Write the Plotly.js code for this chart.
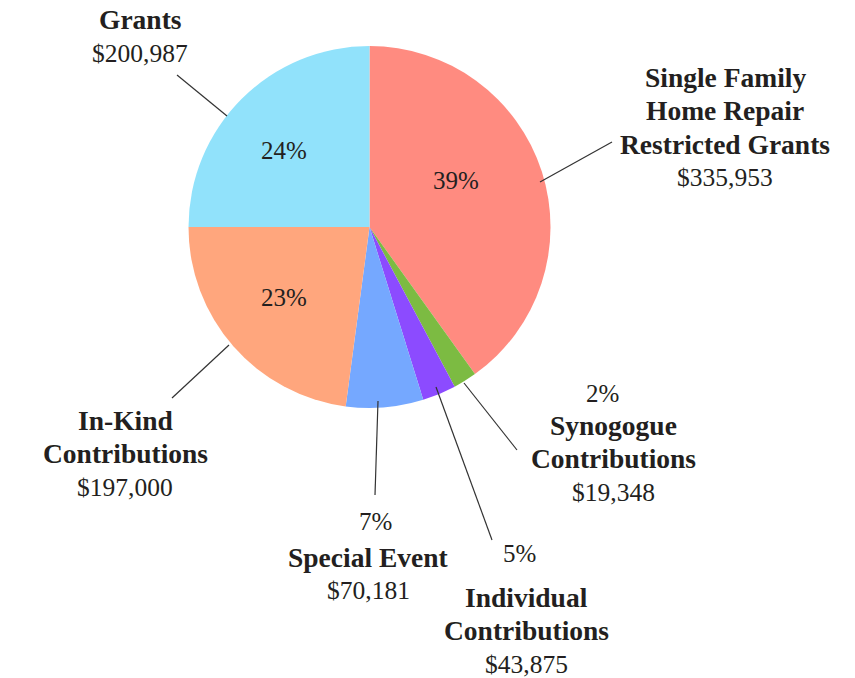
<!DOCTYPE html>
<html>
<head>
<meta charset="utf-8">
<script src="https://cdn.plot.ly/plotly-3.0.1.min.js"></script>
<style>html,body{margin:0;padding:0;background:#fff;}#chart{width:855px;height:678px;}</style>
</head>
<body>
<div id="chart"></div>
<script>
// ---- data (clockwise from 12 o'clock) ----
var categories = ["Single Family Home Repair Restricted Grants", "Synogogue Contributions", "Individual Contributions", "Special Event", "In-Kind Contributions", "Grants"];
var sliceShares = [40.1, 2.1, 3.0, 6.9, 22.9, 25.0];          // slice sizes as drawn (%)
var percentLabels = ["39%", "2%", "5%", "7%", "23%", "24%"];
var dollarLabels = ["$335,953", "$19,348", "$43,875", "$70,181", "$197,000", "$200,987"];
var nameLines = [["Single Family", "Home Repair", "Restricted Grants"], ["Synogogue", "Contributions"], ["Individual", "Contributions"], ["Special Event"], ["In-Kind", "Contributions"], ["Grants"]];
var colors = ["#FF8B80", "#7CBB42", "#8C4BFF", "#75A8FF", "#FFA67D", "#91E2FB"];

// ---- layout helpers (pixel -> paper) ----
var W = 855, H = 678;
function px(x) { return x / W; }
function py(y) { return 1 - y / H; }
var TXT = "#231F20";
var SERIF = "Liberation Serif, Times New Roman, serif";
var LINE = 33.5;

// label block placement: [center x, first line y, percent on top?]
var blockPos = [
  {x: 725, y: 77, pct: null},
  {x: 613, y: 425, pct: {x: 602, y: 393}},
  {x: 526, y: 597, pct: {x: 519, y: 553}},
  {x: 368, y: 557, pct: {x: 375, y: 521}},
  {x: 125, y: 420, pct: null},
  {x: 140, y: 20, pct: null}
];
var insidePct = {0: [456, 181], 4: [284, 297], 5: [284, 151]};
var leaders = [
  [[540, 182], [612, 142]],
  [[464, 383], [517, 450]],
  [[436, 387], [492, 540]],
  [[378, 401], [375, 495]],
  [[229, 345], [172, 398]],
  [[227, 116], [177, 75]]
];

var annotations = [];
function addText(x, y, text, bold, size) {
  annotations.push({
    xref: "paper", yref: "paper", x: px(x), y: py(y),
    xanchor: "center", yanchor: "middle", showarrow: false,
    text: bold ? "<b>" + text + "</b>" : text,
    font: {family: SERIF, size: size, color: TXT}
  });
}
for (var i = 0; i < categories.length; i++) {
  var b = blockPos[i];
  var lines = nameLines[i];
  for (var j = 0; j < lines.length; j++) addText(b.x, b.y + j * LINE, lines[j], true, 27.5);
  addText(b.x, b.y + lines.length * LINE, dollarLabels[i], false, 25.5);
  if (b.pct) addText(b.pct.x, b.pct.y, percentLabels[i], false, 25);
  if (insidePct[i]) addText(insidePct[i][0], insidePct[i][1], percentLabels[i], false, 25);
}
var shapes = leaders.map(function (l) {
  return {type: "line", xref: "paper", yref: "paper",
    x0: px(l[0][0]), y0: py(l[0][1]), x1: px(l[1][0]), y1: py(l[1][1]),
    line: {color: "#333333", width: 1.2}};
});

var cx = 369.5, cy = 227, r = 181;
var trace = {
  type: "pie",
  labels: categories,
  values: sliceShares,
  sort: false,
  direction: "clockwise",
  rotation: 0,
  textinfo: "none",
  hoverinfo: "skip",
  marker: {colors: colors, line: {width: 0}},
  domain: {x: [px(cx - r), px(cx + r)], y: [py(cy + r), py(cy - r)]}
};
var layout = {
  width: W, height: H,
  margin: {l: 0, r: 0, t: 0, b: 0},
  paper_bgcolor: "#ffffff",
  showlegend: false,
  annotations: annotations,
  shapes: shapes
};
Plotly.newPlot("chart", [trace], layout, {displayModeBar: false, staticPlot: true});
</script>
</body>
</html>
